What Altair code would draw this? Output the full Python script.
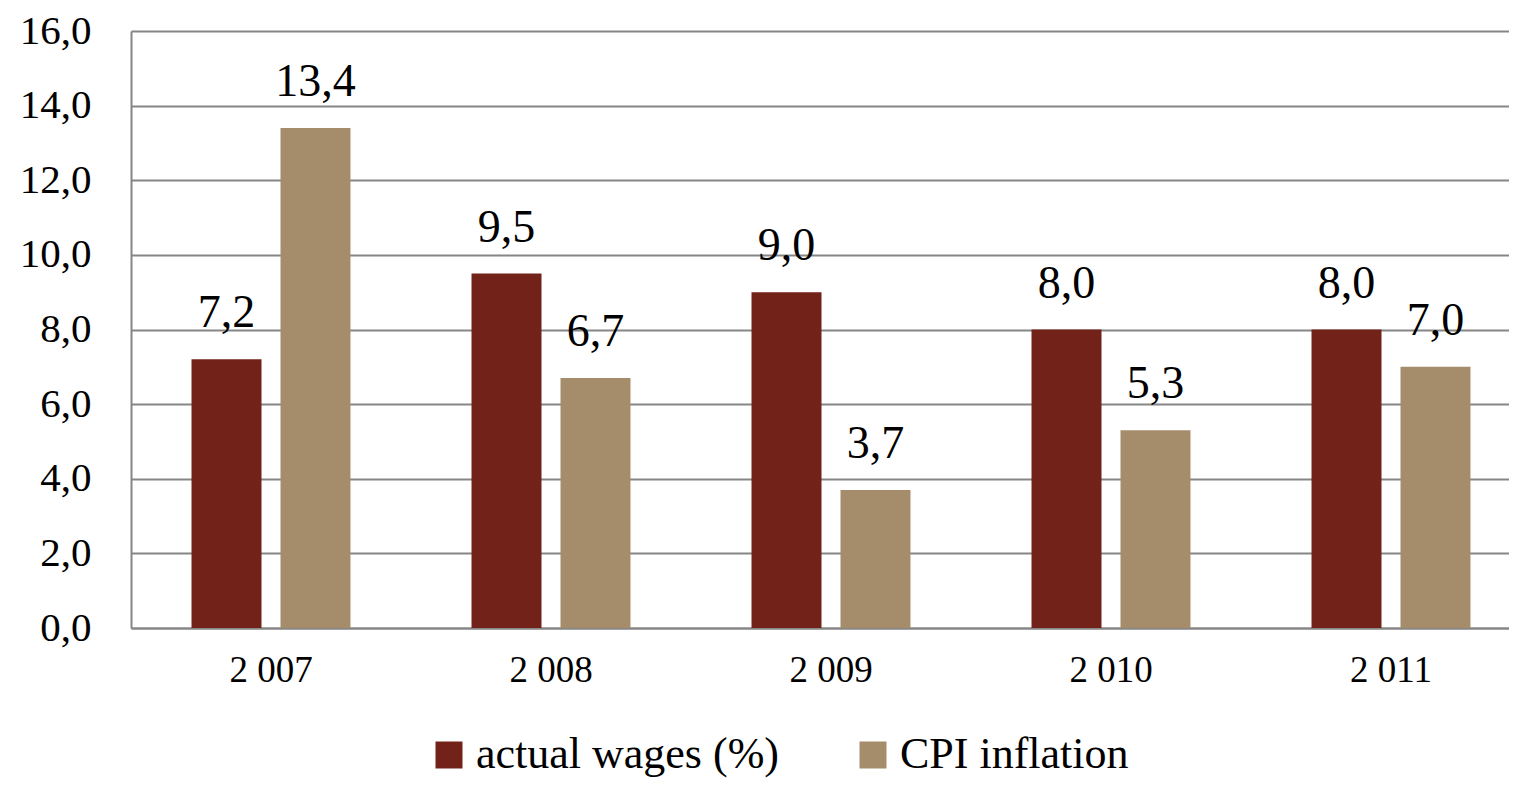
import altair as alt
import pandas as pd

years = ["2 007", "2 008", "2 009", "2 010", "2 011"]
series = ["actual wages (%)", "CPI inflation"]
wages = [7.2, 9.5, 9.0, 8.0, 8.0]
cpi = [13.4, 6.7, 3.7, 5.3, 7.0]
colors = ["#722219", "#A58D6B"]

rows = []
for i, y in enumerate(years):
    rows.append({"year": y, "series": series[0], "value": wages[i]})
    rows.append({"year": y, "series": series[1], "value": cpi[i]})
df = pd.DataFrame(rows)

FONT = "Liberation Serif"

x = alt.X("year:N", sort=years, title=None,
          scale=alt.Scale(range=[0, 1400], paddingInner=0, paddingOuter=0),
          axis=alt.Axis(labelAngle=0, labelFont=FONT, labelFontSize=37, labelColor="black",
                        labelPadding=24, ticks=False, domainColor="#868686", domainWidth=2,
                        grid=False))
xoff = alt.XOffset("series:N", sort=series,
                   scale=alt.Scale(paddingInner=0.2135, paddingOuter=0.68))
y = alt.Y("value:Q", title=None,
          scale=alt.Scale(domain=[0, 16], nice=False),
          axis=alt.Axis(values=list(range(0, 17, 2)),
                        labelExpr="replace(format(datum.value, '.1f'), '.', ',')",
                        labelFont=FONT, labelFontSize=41, labelColor="black",
                        labelPadding=40, ticks=False, domainColor="#868686", domainWidth=2,
                        gridColor="#868686", gridWidth=2))

base = alt.Chart(df)

bars = base.mark_bar().encode(
    x=x, xOffset=xoff, y=y,
    color=alt.Color("series:N", sort=series,
                    scale=alt.Scale(domain=series, range=colors),
                    legend=alt.Legend(title=None, orient="none", legendX=296, legendY=702,
                                      direction="horizontal", symbolType="square",
                                      symbolSize=729, symbolStrokeWidth=0,
                                      labelFont=FONT, labelFontSize=44, labelColor="black",
                                      labelOffset=5, columnPadding=72, labelLimit=500,
                                      padding=0))
)

labels = base.transform_calculate(
    label="replace(format(datum.value, '.1f'), '.', ',')"
).mark_text(font=FONT, fontSize=46, color="black", baseline="alphabetic", dy=-32).encode(
    x=x, xOffset=xoff, y=y, text="label:N"
)

chart = (bars + labels).properties(
    width=1378, height=597,
    padding={"left": 123, "top": 23, "right": 0, "bottom": 150},
    autosize=alt.AutoSizeParams(type="none"),
).configure_view(stroke=None)

chart.save("out.html", embed_options={"renderer": "svg", "actions": False})
